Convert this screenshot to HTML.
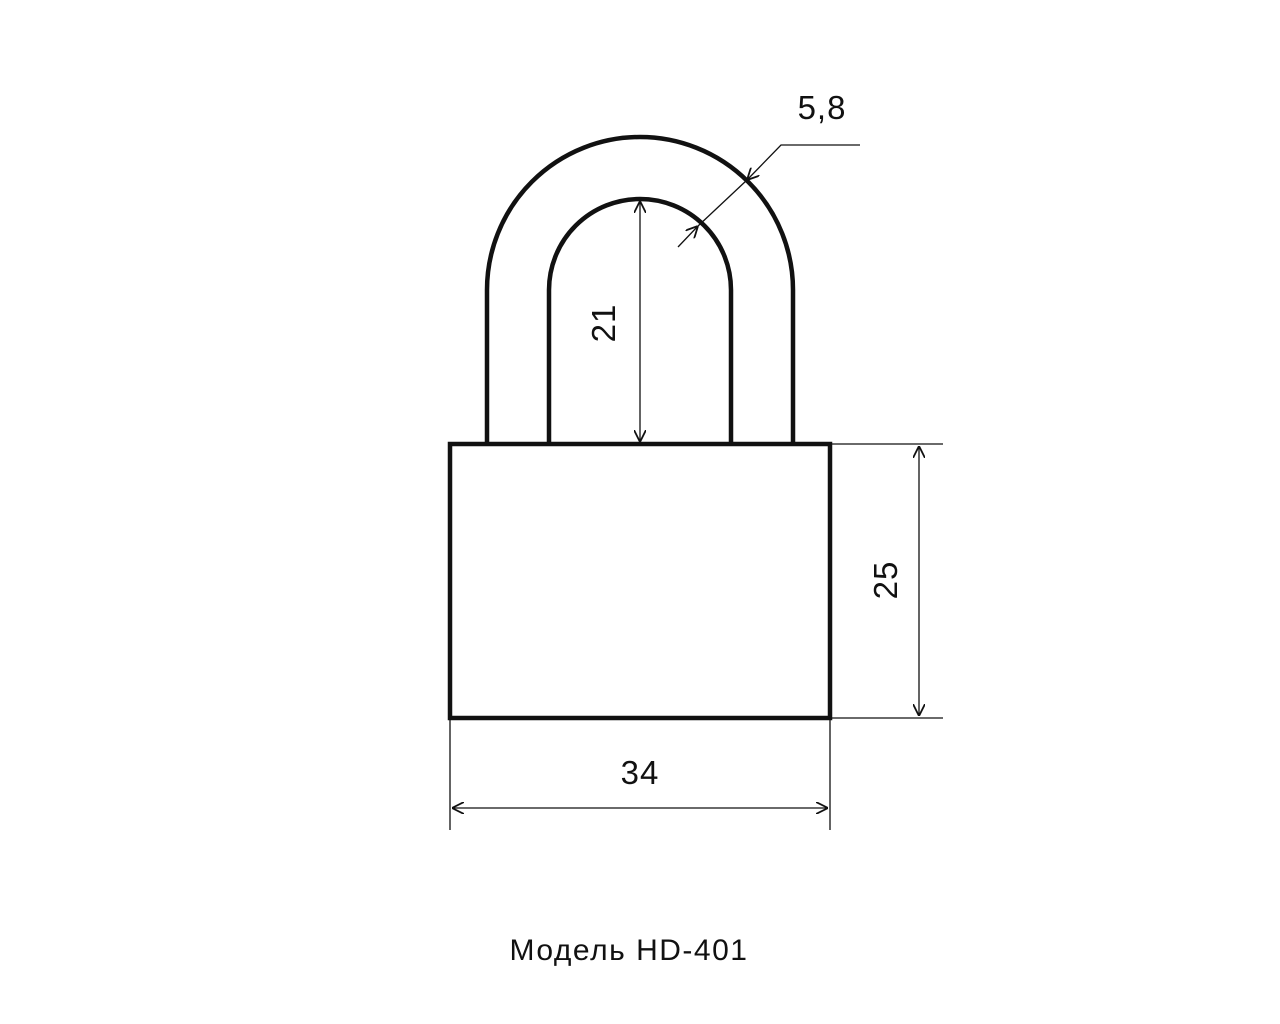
<!DOCTYPE html>
<html><head><meta charset="utf-8"><style>
html,body{margin:0;padding:0;background:#fff;width:1280px;height:1024px;overflow:hidden}
svg{display:block}
text{font-family:"Liberation Sans","DejaVu Sans",sans-serif;fill:#111}
</style></head><body>
<svg width="1280" height="1024" viewBox="0 0 1280 1024">
<defs>
<marker id="a" viewBox="0 0 10 10" refX="10" refY="5" markerWidth="12" markerHeight="12" markerUnits="userSpaceOnUse" orient="auto-start-reverse">
<path d="M0,0 L10,5 L0,10" fill="none" stroke="#111" stroke-width="1.5"/>
</marker>
</defs>
<g fill="none" stroke="#111" stroke-width="4.5">
<path d="M487,444 V290 A153,153 0 0 1 793,290 V444"/>
<path d="M549,444 V290 A91,91 0 0 1 731,290 V444"/>
<rect x="450" y="444" width="380" height="274"/>
</g>
<g fill="none" stroke="#111" stroke-width="1.3">
<line x1="640" y1="201" x2="640" y2="442" marker-start="url(#a)" marker-end="url(#a)"/>
<line x1="832" y1="444" x2="943" y2="444"/>
<line x1="832" y1="718" x2="943" y2="718"/>
<line x1="919" y1="446" x2="919" y2="716" marker-start="url(#a)" marker-end="url(#a)"/>
<line x1="450" y1="720" x2="450" y2="830"/>
<line x1="830" y1="720" x2="830" y2="830"/>
<line x1="452" y1="808" x2="828" y2="808" marker-start="url(#a)" marker-end="url(#a)"/>
<polyline points="860,145 781,145 747,180" marker-end="url(#a)"/>
<line x1="678" y1="247" x2="698" y2="226" marker-end="url(#a)"/>
<line x1="747" y1="180" x2="698" y2="226"/>
</g>
<text x="822" y="119" font-size="33" text-anchor="middle" letter-spacing="1">5,8</text>
<text transform="translate(615,323) rotate(-90)" font-size="33" text-anchor="middle" letter-spacing="1">21</text>
<text transform="translate(897,580) rotate(-90)" font-size="33" text-anchor="middle" letter-spacing="1">25</text>
<text x="640" y="784" font-size="33" text-anchor="middle" letter-spacing="1">34</text>
<text x="629" y="960" font-size="30" text-anchor="middle" letter-spacing="1.5">Модель HD-401</text>
</svg>
</body></html>
